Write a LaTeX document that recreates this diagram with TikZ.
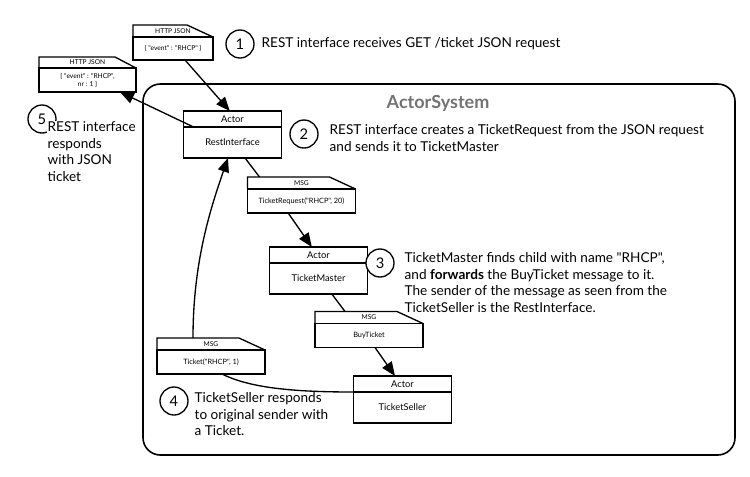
\documentclass[tikz,border=0pt]{standalone}
\usepackage{fontspec}
\setmainfont{Lato}[Ligatures=TeXOff]
\usetikzlibrary{positioning,arrows.meta}

\tikzset{every picture/.style={line width=1pt}}
\tikzset{
  actorhead/.style={draw, outer sep=0pt, inner sep=0pt, minimum width=73.5pt, minimum height=12pt, font=\fontsize{7}{8}\selectfont},
  actorbody/.style={draw, outer sep=0pt, inner sep=0pt, minimum width=73.5pt, minimum height=23.25pt, font=\fontsize{7}{8}\selectfont},
  msghead/.style={outer sep=0pt, inner sep=0pt, minimum width=81pt, minimum height=9pt, font=\fontsize{5}{6}\selectfont},
  msgbody/.style={draw, outer sep=0pt, inner sep=0pt, minimum width=81pt, minimum height=18pt, font=\fontsize{5.5}{6.5}\selectfont},
  stepnum/.style={circle, draw, fill=white, inner sep=0pt, minimum size=21pt, font=\fontsize{11}{12}\selectfont},
  note/.style={anchor=north west, inner sep=0.75pt, align=left, font=\fontsize{10.2}{12.4}\selectfont},
  arr/.style={-{Triangle[length=10.5pt,width=8.5pt]}},
}

\begin{document}
\begin{tikzpicture}[x=0.75pt,y=0.75pt,yscale=-1,xscale=1]
\useasboundingbox (0,0) rectangle (750,476);

%Shape: Rounded Rect (ActorSystem)
\draw [line width=1.2pt, rounded corners=13pt] (143,84) rectangle (735,455) ;
% Text Node
\node [text=black!55, font=\fontsize{13.5}{15}\bfseries] (sysname) at (438,103) {ActorSystem};

%Shape: HTTP JSON request
\node [msgbody, minimum width=60pt, minimum height=17.25pt, font=\fontsize{5}{6}\selectfont] (req) at (173,48.5) {\{ "event" : "RHCP" \}};
\node [msghead, minimum width=60pt, above=0pt of req] (reqh) {HTTP JSON};
\draw (reqh.south west) -- (reqh.north west) -- ([xshift=-19.5pt]reqh.north east) -- (reqh.south east) ;

%Shape: HTTP JSON response
\node [msgbody, minimum width=72.75pt, align=center, font=\fontsize{5}{6}\selectfont] (resp) at (87.5,80) {\{ "event" : "RHCP",\\ nr : 1 \}};
\node [msghead, minimum width=72.75pt, minimum height=8.25pt, above=0pt of resp] (resph) {HTTP JSON};
\draw (resph.south west) -- (resph.north west) -- ([xshift=-15.75pt]resph.north east) -- (resph.south east) ;

%Shape: Actor RestInterface
\node [actorbody] (rest) at (232.5,142.5) {RestInterface};
\node [actorhead, above=0pt of rest] (resth) {Actor};

%Shape: Actor TicketMaster
\node [actorbody] (master) at (318.5,278.5) {TicketMaster};
\node [actorhead, above=0pt of master] (masterh) {Actor};

%Shape: Actor TicketSeller
\node [actorbody] (seller) at (402.5,407.5) {TicketSeller};
\node [actorhead, above=0pt of seller] (sellerh) {Actor};

%Shape: MSG TicketRequest
\node [msgbody] (treq) at (301.5,201) {TicketRequest("RHCP", 20)};
\node [msghead, above=0pt of treq] (treqh) {MSG};
\draw (treqh.south west) -- (treqh.north west) -- ([xshift=-19.5pt]treqh.north east) -- (treqh.south east) ;

%Shape: MSG BuyTicket
\node [msgbody] (buy) at (369,335.5) {BuyTicket};
\node [msghead, above=0pt of buy] (buyh) {MSG};
\draw (buyh.south west) -- (buyh.north west) -- ([xshift=-19.5pt]buyh.north east) -- (buyh.south east) ;

%Shape: MSG Ticket
\node [msgbody] (tick) at (211,362) {Ticket("RHCP", 1)};
\node [msghead, above=0pt of tick] (tickh) {MSG};
\draw (tickh.south west) -- (tickh.north west) -- ([xshift=-19.5pt]tickh.north east) -- (tickh.south east) ;

%Straight Lines
\draw [arr] ([xshift=9pt]req.south) -- ([xshift=-2pt]resth.north) ;
\draw [arr] ([xshift=7.5pt]rest.north west) -- ([xshift=-12pt]resp.south east) ;
\draw ([xshift=9.4pt]rest.south) -- ([xshift=9pt]treqh.north west) ;
\draw [arr] ([xshift=-10pt]treq.south) -- ([xshift=-5pt]masterh.north) ;
\draw ([xshift=10pt]master.south) -- ([xshift=-18pt]buyh.north) ;
\draw [arr] ([xshift=4.5pt]buy.south) -- ([xshift=-5.6pt]sellerh.north) ;
%Curve Lines
\draw (seller.north west) .. controls +(-60,0) and +(28,14) .. ([xshift=8.25pt]tick.south) ;
\draw [arr] ([xshift=-13.5pt]tickh.north) .. controls +(0,-75) and +(-18,52) .. ([xshift=-3.4pt]rest.south) ;

%Flowchart: Connector (steps)
\node [stepnum] (s1) at (240,44) {1};
\node [stepnum] (s2) at (304,134) {2};
\node [stepnum] (s3) at (380,263) {3};
\node [stepnum] (s4) at (174,401) {4};
\node [stepnum] (s5) at (42,119) {5};

% Text Node
\node [note, anchor=west] (t1) at (260,44) {REST interface receives GET /ticket JSON request};
% Text Node
\node [note] (t2) at (328,123) {REST interface creates a TicketRequest from the JSON request\\and sends it to TicketMaster};
% Text Node
\node [note] (t3) at (403,251) {TicketMaster finds child with name "RHCP",\\and \textbf{forwards} the BuyTicket message to it.\\The sender of the message as seen from the\\TicketSeller is the RestInterface.};
% Text Node
\node [note] (t4) at (193,391) {TicketSeller responds\\to original sender with\\a Ticket.};
% Text Node
\node [note, fill=white] (t5) at (46,120) {REST interface\\responds\\with JSON\\ticket};

\end{tikzpicture}
\end{document}
